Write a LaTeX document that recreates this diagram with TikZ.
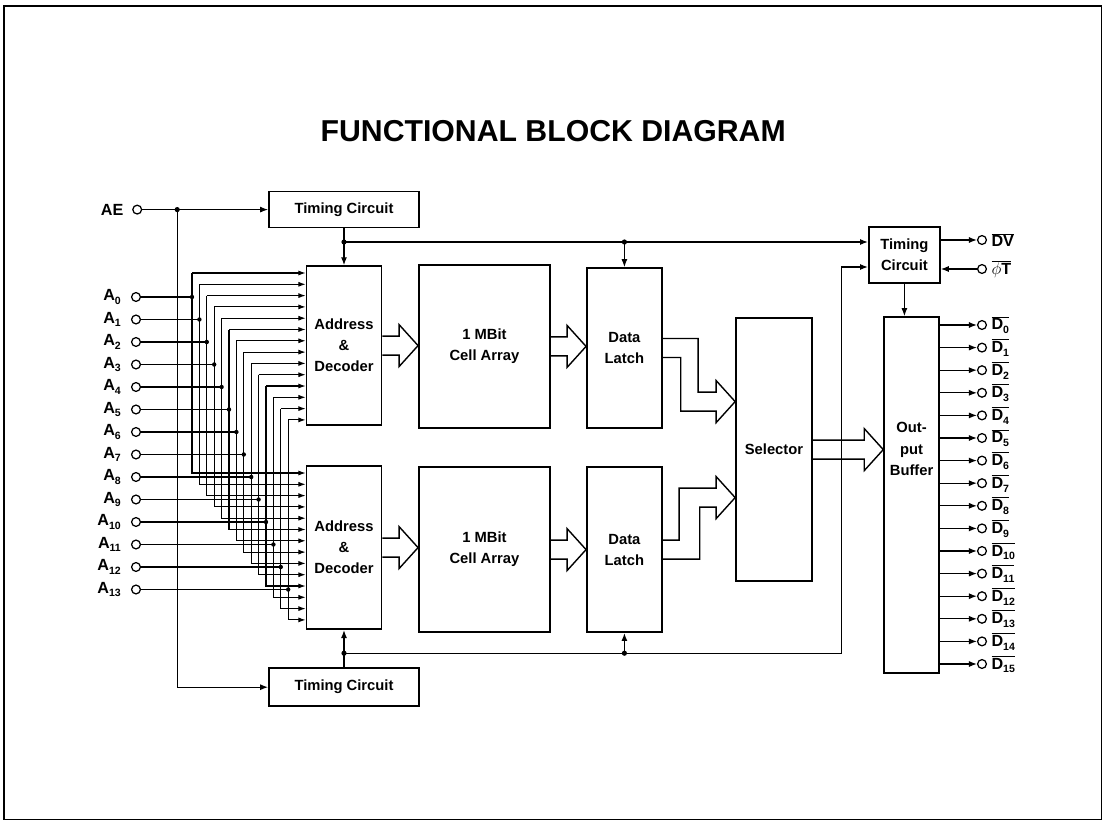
\documentclass[tikz,border=0pt]{standalone}
\usepackage{fontspec}
\setmainfont{Liberation Sans}
\usepackage{tikz}
\usetikzlibrary{arrows.meta,positioning,calc}
\newcommand{\fbfont}{\fontsize{10.5}{15}\selectfont\bfseries}
\newcommand{\fbpinfont}{\fontsize{11.5}{14}\selectfont\bfseries}
\newcommand{\lsub}[1]{\raisebox{-0.45ex}{\fontsize{7.5}{8}\selectfont #1}}
\tikzset{
fbblock/.style={rectangle,draw,line width=1.2pt,align=center,inner sep=1pt,font=\fbfont},
fbport/.style={circle,draw,line width=0.9pt,fill=white,inner sep=0pt,minimum size=0.22cm},
fbsig/.style={font=\fbfont,inner sep=1pt},
fbpin/.style={font=\fbpinfont,inner sep=1pt},
fbwire/.style={line width=0.9pt},
fbarr/.style={-{Latex[length=2mm,width=1.5mm]},line width=0.9pt},
fbfan/.style={-{Latex[length=1.8mm,width=1.25mm]},line width=0.75pt},
fbfat/.style={line width=1pt,line join=miter}
}
% open double-line arrow from one block to the next
\newcommand{\fbfatarrow}[2]{%
  \coordinate (fbtip) at (#1.east -| #2.west);
  \draw[fbfat] ($(#1.east)+(0,.2375)$) -- ($(fbtip)+(-.475,.2375)$) -- ($(fbtip)+(-.475,.525)$)
    -- (fbtip) -- ($(fbtip)+(-.475,-.525)$) -- ($(fbtip)+(-.475,-.2375)$) -- ($(#1.east)+(0,-.2375)$);
}

\begin{document}
\begin{tikzpicture}[
x=1cm,
y=1cm
]
\useasboundingbox (0,0) rectangle (27.65,-20.7);
\draw[line width=0.8pt] (0.1,-0.15) rectangle (27.53,-20.48);
\node[font=\fontsize{21.5}{25}\selectfont\bfseries] (title) at (13.83,-3.28) {FUNCTIONAL BLOCK DIAGRAM};

% blocks
\node[fbblock,minimum width=3.75cm,minimum height=0.9cm] (tctop) at (8.6,-5.24) {Timing Circuit};
\node[fbblock,minimum width=3.75cm,minimum height=0.95cm] (tcbot) at (8.6,-17.18) {Timing Circuit};
\node[fbblock,minimum width=1.875cm,minimum height=3.975cm] (dectop) at (8.6,-8.64) {Address\\\&\\Decoder};
\node[fbblock,minimum width=1.875cm,minimum height=4.08cm] (decbot) at (8.6,-13.69) {Address\\\&\\Decoder};
\node[fbblock,minimum width=3.275cm,minimum height=4.075cm] (celltop) at (12.11,-8.66) {1 MBit\\Cell Array};
\node[fbblock,minimum width=3.275cm,minimum height=4.125cm] (cellbot) at (12.11,-13.74) {1 MBit\\Cell Array};
\node[fbblock,minimum width=1.875cm,minimum height=4.0cm] (lattop) at (15.61,-8.7) {Data\\Latch};
\node[fbblock,minimum width=1.875cm,minimum height=4.125cm] (latbot) at (15.61,-13.74) {Data\\Latch};
\node[fbblock,minimum width=1.9cm,minimum height=6.575cm] (sel) at (19.35,-11.24) {Selector};
\node[fbblock,minimum width=1.775cm,minimum height=1.4cm] (tcright) at (22.61,-6.375) {Timing\\Circuit};
\node[fbblock,minimum width=1.375cm,minimum height=8.9cm,
  label={[fbsig,align=center,yshift=1.15cm]center:Out-\\put\\Buffer}] (outbuf) at (22.79,-12.375) {};

% AE input
\node[fbport] (ae) at (3.43,-5.24) {};
\node[fbpin,left=5pt of ae] (aelabel) {AE};
\coordinate (aej) at (4.43,-5.24);
\draw[fbarr] (ae) -- (tctop.west);
\draw[fbarr] (aej) |- (tcbot.west);
\fill (aej) circle (0.065);

% address inputs, each to both decoders
\foreach \i in {0,...,13} {
  \pgfmathsetmacro\ya{-7.425-0.5625*\i}
  \pgfmathsetmacro\xv{4.8+0.185*\i}
  \pgfmathsetmacro\yu{-6.825-0.2825*\i}
  \pgfmathsetmacro\yl{-11.825-0.2825*\i}
  \node[fbport] (a\i) at (3.4,\ya) {};
  \node[fbpin,left=6pt of a\i] (alabel\i) {A\lsub{\i}};
  \coordinate (v\i) at (\xv,\ya);
  \coordinate (u\i) at (\xv,\yu);
  \coordinate (l\i) at (\xv,\yl);
  \draw[fbwire] (a\i) -- (v\i);
  \draw[fbfan] (u\i) -- (u\i -| dectop.west);
  \draw[fbfan] (u\i) -- (l\i) -- (l\i -| decbot.west);
  \fill (v\i) circle (0.055);
}

% timing buses
\coordinate (busa) at (8.6,-6.05);
\coordinate (busb) at (lattop.north |- busa);
\draw[fbarr] (tctop) -- (dectop);
\draw[fbarr] (busa) -- (busa -| tcright.west);
\draw[fbarr] (busb) -- (lattop.north);
\fill (busa) circle (0.065);
\fill (busb) circle (0.065);
\coordinate (busc) at (8.6,-16.33);
\coordinate (busd) at (latbot.south |- busc);
\coordinate (buse) at (21.03,-16.33);
\coordinate (busf) at (21.03,-6.675);
\draw[fbarr] (tcbot) -- (decbot);
\draw[fbarr] (busc) -- (buse) -- (busf) -- (busf -| tcright.west);
\draw[fbarr] (busd) -- (latbot.south);
\fill (busc) circle (0.065);
\fill (busd) circle (0.065);

% data path
\fbfatarrow{dectop}{celltop}
\fbfatarrow{decbot}{cellbot}
\fbfatarrow{celltop}{lattop}
\fbfatarrow{cellbot}{latbot}
\fbfatarrow{sel}{outbuf}
\coordinate (hu) at ($(sel.west)+(0,1.2)$);
\coordinate (hl) at ($(sel.west)+(0,-1.2)$);
\draw[fbfat] ($(lattop.east)+(0,.2375)$) -| ($(hu)+(-.925,.2375)$) -- ($(hu)+(-.475,.2375)$)
  -- ($(hu)+(-.475,.525)$) -- (hu) -- ($(hu)+(-.475,-.525)$) -- ($(hu)+(-.475,-.2375)$)
  -| ($(lattop.east)+(.45,-.2375)$) -- ($(lattop.east)+(0,-.2375)$);
\draw[fbfat] ($(latbot.east)+(0,.2375)$) -| ($(hl)+(-1.4,.2375)$) -- ($(hl)+(-.475,.2375)$)
  -- ($(hl)+(-.475,.525)$) -- (hl) -- ($(hl)+(-.475,-.525)$) -- ($(hl)+(-.475,-.2375)$)
  -| ($(latbot.east)+(.925,-.2375)$) -- ($(latbot.east)+(0,-.2375)$);

% right timing circuit
\draw[fbarr] (tcright) -- (tcright.south |- outbuf.north);
\node[fbport] (dv) at (24.55,-6.0) {};
\node[fbpin,right=2pt of dv] (dvlabel) {$\overline{\mbox{DV}}$};
\draw[fbarr] (tcright.east |- dv) -- (dv);
\node[fbport] (phit) at (24.55,-6.725) {};
\node[fbpin,right=2pt of phit] (phitlabel) {$\overline{\mbox{$\phi$T}}$};
\draw[fbarr] (phit) -- (phit -| tcright.east);

% data outputs
\foreach \i in {0,...,15} {
  \pgfmathsetmacro\yd{-8.125-0.565*\i}
  \node[fbport] (d\i) at (24.55,\yd) {};
  \node[fbpin,right=2pt of d\i] (dlabel\i) {$\overline{\mbox{D\lsub{\i}}}$};
  \draw[fbarr] (d\i -| outbuf.east) -- (d\i);
}
\end{tikzpicture}
\end{document}
